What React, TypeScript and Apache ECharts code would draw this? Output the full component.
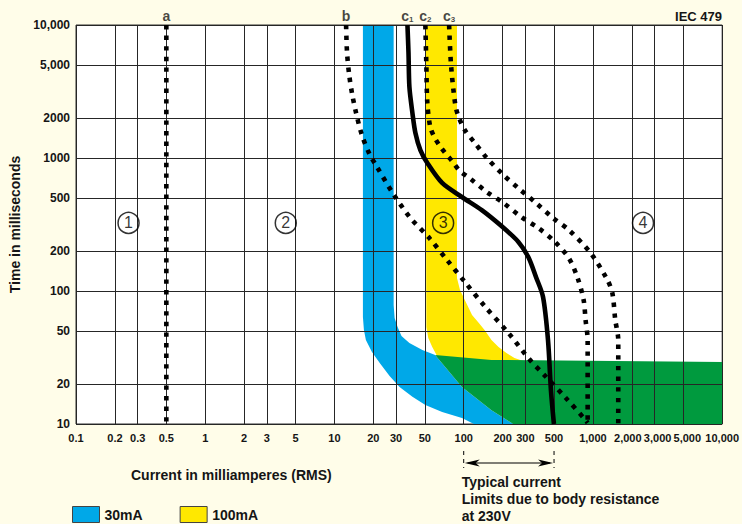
import React, { useEffect, useRef } from 'react';
import * as echarts from 'echarts';

const FONT = '"Liberation Sans", Arial, sans-serif';
const TEXT = '#151515';
const BG = '#FFFDE9';
const BLUE = '#00A8E8';
const YELLOW = '#FFE800';
const GREEN = '#009A3E';

const X_TICKS = [0.1, 0.2, 0.3, 0.5, 1, 2, 3, 5, 10, 20, 30, 50, 100, 200, 300, 500, 1000, 2000, 3000, 5000, 10000];
const X_TICK_LABELS = ['0.1', '0.2', '0.3', '0.5', '1', '2', '3', '5', '10', '20', '30', '50', '100', '200', '300', '500', '1,000', '2,000', '3,000', '5,000', '10,000'];
const Y_TICKS = [10, 20, 50, 100, 200, 500, 1000, 2000, 5000, 10000];
const Y_TICK_LABELS = ['10', '20', '50', '100', '200', '500', '1000', '2000', '5,000', '10,000'];

// Curves: current (mA) and time (ms)
const CURVE_A_MA = [0.5, 0.5];
const CURVE_A_MS = [10000, 10];
const CURVE_B_MA = [12.3, 12.5, 13.0, 13.7, 14.7, 16.3, 18.8, 20.9, 28.2, 38.7, 54.2, 74.3, 102, 145, 222, 321, 419, 617, 877, 910];
const CURVE_B_MS = [10000, 6270, 4210, 3030, 2180, 1489, 1054, 886, 546, 354, 250, 171, 117, 77.1, 48.3, 30.8, 23.4, 15.7, 10.7, 10.2];
const CURVE_C1_MA = [36.7, 37.4, 38.0, 40.1, 42.3, 46.2, 52.3, 68.1, 96.9, 138, 196, 265, 316, 363, 411, 449, 473, 499];
const CURVE_C1_MS = [10000, 6150, 3420, 2180, 1542, 1148, 917, 649, 509, 406, 308, 234, 180, 127, 90.2, 42.8, 18.0, 10];
const CURVE_C2_MA = [50.5, 51.4, 52.3, 55.1, 59.2, 64.6, 71.8, 81.2, 93.5, 111, 151, 203, 279, 377, 499, 650, 762, 847, 877, 910, 910];
const CURVE_C2_MS = [10000, 5000, 2590, 1710, 1440, 1253, 1091, 949, 798, 707, 555, 459, 360, 298, 238, 177, 125, 85.6, 60.5, 42.8, 10];
const CURVE_C3_MA = [77.1, 79.8, 85.7, 90.3, 102, 122, 151, 203, 269, 363, 491, 650, 959, 1294, 1413, 1489, 1570, 1570];
const CURVE_C3_MS = [10000, 5000, 2590, 2100, 1624, 1297, 1000, 745, 585, 459, 354, 288, 193, 121, 96.6, 60.5, 42.8, 10];
const CURVE_NAMES = ['a', 'b', 'c1', 'c2', 'c3'];

// Zones (outlines, mA / ms)
const BLUE_MA = [16.6, 16.6, 16.9, 17.5, 19.5, 22.4, 26.7, 31.9, 40.1, 50.5, 68.1, 96.9, 120, 242, 164, 96.9, 60.1, 47.9, 38.0, 33.0, 30.8, 29.2, 28.7, 28.7];
const BLUE_MS = [10000, 63.8, 50.9, 42.8, 34.8, 28.7, 23.0, 19.0, 16.0, 13.9, 12.3, 11.1, 10, 10, 12.7, 19.0, 33.0, 36.0, 40.6, 45.9, 53.6, 62.7, 78.5, 10000];
const YELLOW_MA = [50.5, 51.4, 53.2, 57.1, 63.4, 74.3, 333, 289, 247, 214, 186, 164, 145, 131, 116, 102, 93.5, 88.7, 88.7];
const YELLOW_MS = [10000, 53.6, 44.3, 37.9, 31.3, 27.3, 27.3, 29.8, 31.3, 34.2, 37.9, 42.8, 50.9, 57.4, 66.0, 85.6, 102, 125, 10000];
const GREEN_MA = [60.1, 164, 10000, 10000, 242, 164, 96.9];
const GREEN_MS = [33.0, 30.3, 29.3, 10, 10, 12.7, 19.0];

// Zone numbers
const ZONE_MA = [0.255, 4.2, 69.3, 2440];
const ZONE_MS = [325, 325, 325, 325];
const ZONE_LABELS = ['1', '2', '3', '4'];

const L = Math.log10;
const toPts = (xs: number[], ys: number[]) => xs.map((x, i) => [L(x), L(ys[i])]);

function tickIndex(v: number, ticks: number[]) {
  for (let i = 0; i < ticks.length; i++) {
    if (Math.abs(L(ticks[i]) - v) < 1e-6) return i;
  }
  return -1;
}

// crowded labels in the top decade are nudged apart (text only)
const X_LABEL_STYLE: Record<string, string> = { '2,000': 'l', '3,000': 'r', '5,000': 'rr' };

function polygonSeries(name: string | undefined, xs: number[], ys: number[], color: string, z: number) {
  const pts = toPts(xs, ys);
  return {
    type: 'custom',
    name,
    z,
    silent: true,
    clip: true,
    data: pts,
    encode: { x: 0, y: 1 },
    itemStyle: { color },
    renderItem: (params: any, api: any) => {
      if (params.dataIndex !== 0) return null;
      return {
        type: 'polygon',
        shape: { points: pts.map((p) => api.coord(p)) },
        style: { fill: color },
      };
    },
  };
}

function curveSeries(xs: number[], ys: number[], dashed: boolean, smooth: number) {
  return {
    type: 'line',
    data: toPts(xs, ys),
    showSymbol: false,
    symbol: 'none',
    smooth,
    z: 5,
    silent: true,
    lineStyle: {
      color: '#000',
      width: 4.6,
      type: dashed ? [4.4, 6.2] : 'solid',
      cap: 'butt',
      join: 'round',
    },
  };
}

export default function App() {
  const ref = useRef<HTMLDivElement>(null);

  useEffect(() => {
    if (!ref.current) return;
    const chart = echarts.init(ref.current, undefined, { renderer: 'svg' });

    const curveTops = [
      [CURVE_A_MA[0], CURVE_A_MS[0]],
      [CURVE_B_MA[0], CURVE_B_MS[0]],
      [CURVE_C1_MA[0], CURVE_C1_MS[0]],
      [CURVE_C2_MA[0], CURVE_C2_MS[0]],
      [CURVE_C3_MA[0], CURVE_C3_MS[0]],
    ].map((p) => [L(p[0]), L(p[1])]);

    const xLabelBase = { fontSize: 11, fontWeight: 'bold', color: TEXT, fontFamily: FONT };

    chart.setOption({
      animation: false,
      backgroundColor: BG,
      textStyle: { fontFamily: FONT },
      grid: {
        left: 70,
        top: 25,
        width: 653,
        height: 399,
        show: true,
        backgroundColor: '#ffffff',
        borderColor: '#333',
        borderWidth: 1,
      },
      legend: {
        left: 72,
        top: 506,
        padding: 0,
        itemWidth: 27,
        itemHeight: 16,
        itemGap: 37,
        selectedMode: false,
        textStyle: { fontSize: 14, fontWeight: 'bold', color: TEXT, fontFamily: FONT },
        data: [
          { name: '30mA', icon: 'rect', itemStyle: { color: BLUE, borderColor: '#444', borderWidth: 1 } },
          { name: '100mA', icon: 'rect', itemStyle: { color: YELLOW, borderColor: '#444', borderWidth: 1 } },
        ],
      },
      xAxis: {
        type: 'value',
        min: -1,
        max: 4,
        z: 3,
        axisLine: { show: false },
        axisTick: { show: false, customValues: X_TICKS.map(L) },
        axisLabel: {
          customValues: X_TICKS.map(L),
          formatter: (v: number) => {
            const i = tickIndex(v, X_TICKS);
            if (i < 0) return '';
            const t = X_TICK_LABELS[i];
            const k = X_LABEL_STYLE[t];
            return k ? `{${k}|${t}}` : t;
          },
          ...xLabelBase,
          margin: 8,
          rich: {
            l: { ...xLabelBase, padding: [0, 8, 0, 0] },
            r: { ...xLabelBase, padding: [0, 0, 0, 6] },
            rr: { ...xLabelBase, padding: [0, 0, 0, 8] },
          },
        },
        splitLine: { show: true, lineStyle: { color: '#262626', width: 1 } },
      },
      yAxis: {
        type: 'value',
        min: 1,
        max: 4,
        z: 3,
        axisLine: { show: false },
        axisTick: { show: false, customValues: Y_TICKS.map(L) },
        axisLabel: {
          customValues: Y_TICKS.map(L),
          formatter: (v: number) => {
            const i = tickIndex(v, Y_TICKS);
            return i < 0 ? '' : Y_TICK_LABELS[i];
          },
          fontSize: 12,
          fontWeight: 'bold',
          color: TEXT,
          margin: 6,
          fontFamily: FONT,
        },
        splitLine: { show: true, lineStyle: { color: '#262626', width: 1 } },
        name: 'Time in milliseconds',
        nameLocation: 'middle',
        nameGap: 54,
        nameTextStyle: { fontSize: 14, fontWeight: 'bold', color: TEXT, fontFamily: FONT },
      },
      series: [
        polygonSeries('30mA', BLUE_MA, BLUE_MS, BLUE, 1),
        polygonSeries('100mA', YELLOW_MA, YELLOW_MS, YELLOW, 1.2),
        polygonSeries(undefined, GREEN_MA, GREEN_MS, GREEN, 1.4),
        curveSeries(CURVE_A_MA, CURVE_A_MS, true, 0),
        curveSeries(CURVE_B_MA, CURVE_B_MS, true, 0.3),
        curveSeries(CURVE_C1_MA, CURVE_C1_MS, false, 0.3),
        curveSeries(CURVE_C2_MA, CURVE_C2_MS, true, 0.3),
        curveSeries(CURVE_C3_MA, CURVE_C3_MS, true, 0.3),
        {
          type: 'scatter',
          data: curveTops,
          symbolSize: 1,
          z: 6,
          silent: true,
          itemStyle: { color: 'rgba(0,0,0,0)' },
          label: {
            show: true,
            position: 'top',
            distance: 1,
            formatter: (p: any) => {
              const n = CURVE_NAMES[p.dataIndex];
              return n.length > 1 ? `{m|${n[0]}}{s|${n.slice(1)}}` : `{m|${n}}`;
            },
            rich: {
              m: { fontSize: 14, fontWeight: 'bold', color: TEXT, fontFamily: FONT, lineHeight: 16 },
              s: { fontSize: 8, fontWeight: 'bold', color: TEXT, fontFamily: FONT, verticalAlign: 'bottom', lineHeight: 16 },
            },
          },
        },
        {
          type: 'scatter',
          data: toPts(ZONE_MA, ZONE_MS),
          symbol: 'circle',
          symbolSize: 21,
          z: 6,
          silent: true,
          itemStyle: { color: 'rgba(0,0,0,0)', borderColor: '#000', borderWidth: 1.5 },
          label: {
            show: true,
            position: 'inside',
            formatter: (p: any) => ZONE_LABELS[p.dataIndex],
            fontSize: 16,
            color: '#000',
            fontFamily: FONT,
          },
        },
      ],
    });

    const x100 = chart.convertToPixel({ xAxisIndex: 0 }, L(100)) as number;
    const x500 = chart.convertToPixel({ xAxisIndex: 0 }, L(500)) as number;
    const ay = 463;
    const txt = (text: string, x: number, y: number, size: number, align = 'left') => ({
      type: 'text',
      x,
      y,
      silent: true,
      style: {
        text,
        fill: TEXT,
        font: `bold ${size}px ${FONT}`,
        align,
        textAlign: align,
        verticalAlign: 'middle',
        textVerticalAlign: 'middle',
      },
    });

    chart.setOption({
      graphic: [
        txt('IEC 479', 722, 16, 13, 'right'),
        txt('Current in milliamperes (RMS)', 131, 475, 14),
        txt('Typical current', x100 - 2, 482, 14),
        txt('Limits due to body resistance', x100 - 2, 499, 14),
        txt('at 230V', x100 - 2, 516, 14),
        {
          type: 'line', silent: true,
          shape: { x1: x100, y1: 451, x2: x100, y2: 468 },
          style: { stroke: '#000', lineWidth: 1, lineDash: [4, 4] },
        },
        {
          type: 'line', silent: true,
          shape: { x1: x500, y1: 451, x2: x500, y2: 468 },
          style: { stroke: '#000', lineWidth: 1, lineDash: [4, 4] },
        },
        {
          type: 'line', silent: true,
          shape: { x1: x100 + 4, y1: ay, x2: x500 - 4, y2: ay },
          style: { stroke: '#000', lineWidth: 1.2 },
        },
        {
          type: 'polygon', silent: true,
          shape: { points: [[x100 + 1, ay], [x100 + 16, ay - 3.5], [x100 + 12, ay], [x100 + 16, ay + 3.5]] },
          style: { fill: '#000' },
        },
        {
          type: 'polygon', silent: true,
          shape: { points: [[x500 - 1, ay], [x500 - 16, ay - 3.5], [x500 - 12, ay], [x500 - 16, ay + 3.5]] },
          style: { fill: '#000' },
        },
      ],
    });

    return () => chart.dispose();
  }, []);

  return (
    <div
      ref={ref}
      style={{ position: 'fixed', left: 0, top: 0, width: 742, height: 524, background: BG }}
    />
  );
}
